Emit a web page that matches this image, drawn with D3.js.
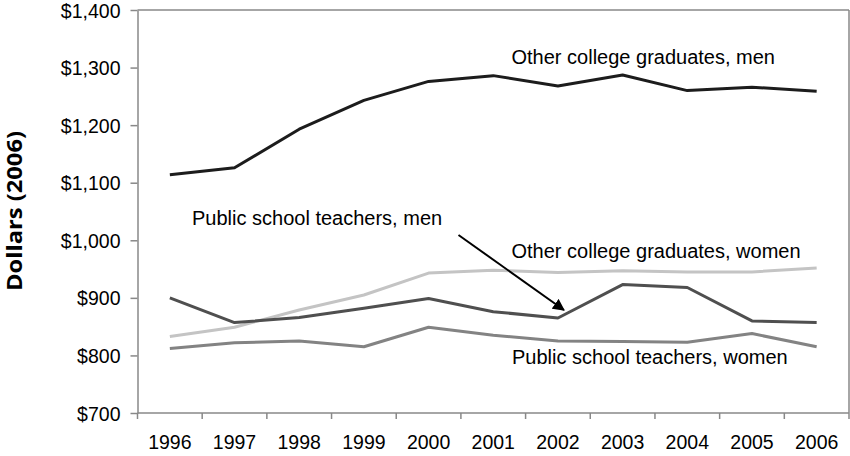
<!DOCTYPE html>
<html>
<head>
<meta charset="utf-8">
<script src="https://cdn.jsdelivr.net/npm/d3@7"></script>
<style>
  html, body { margin: 0; padding: 0; background: #fff; }
  svg { display: block; }
  text { fill: #000; }
</style>
</head>
<body>
<svg id="chart" width="850" height="456"></svg>
<script>
const years = ["1996","1997","1998","1999","2000","2001","2002","2003","2004","2005","2006"];
const gradsMen      = [1114, 1126, 1193, 1243, 1276, 1286, 1268, 1287, 1260, 1266, 1259];
const gradsWomen    = [833, 849, 879, 905, 943, 948, 944, 947, 945, 945, 952];
const teachersMen   = [900, 857, 866, 882, 899, 876, 865, 923, 918, 860, 857];
const teachersWomen = [812, 822, 825, 815, 849, 835, 825, 824, 823, 838, 815];
const yTicks = [700, 800, 900, 1000, 1100, 1200, 1300, 1400];
const seriesNames = ["Other college graduates, men", "Other college graduates, women",
                     "Public school teachers, men", "Public school teachers, women"];
const yTitle = "Dollars (2006)";

const svg = d3.select("#chart");
const L = 137.5, R = 849, T = 10, B = 413;
const frame = "#888";
const FONT = "'Liberation Sans', Arial, sans-serif";

const x = d3.scaleBand().domain(years).range([L, R]).padding(0);
const y = d3.scaleLinear().domain([700, 1400]).range([B, T]);
const cx = d => x(d) + x.bandwidth() / 2;

// frame: top & right borders
svg.append("line").attr("x1", L).attr("x2", R).attr("y1", T).attr("y2", T).attr("stroke", frame).attr("stroke-width", 1.5);
svg.append("line").attr("x1", R).attr("x2", R).attr("y1", T).attr("y2", B).attr("stroke", frame).attr("stroke-width", 1.5);

// y axis
const yAxis = svg.append("g").attr("transform", `translate(${L},0)`)
  .call(d3.axisLeft(y).tickValues(yTicks).tickFormat(d3.format("$,")).tickSize(7).tickSizeOuter(0).tickPadding(10));
yAxis.select(".domain").attr("stroke", frame).attr("stroke-width", 1.5);
yAxis.selectAll(".tick line").attr("stroke", frame).attr("stroke-width", 1.5);
yAxis.selectAll(".tick text").style("font-size", "19.5px").style("font-family", FONT).attr("fill", "#000").attr("dy", "0.36em");

// x axis
const xAxis = svg.append("g").attr("transform", `translate(0,${B})`)
  .call(d3.axisBottom(x).tickSize(0).tickPadding(22));
xAxis.select(".domain").remove();
xAxis.selectAll(".tick text").style("font-size", "19.5px").style("font-family", FONT).attr("fill", "#000");
svg.append("line").attr("x1", L).attr("x2", R).attr("y1", B).attr("y2", B).attr("stroke", frame).attr("stroke-width", 1.5);
const bounds = years.map(d => x(d)).concat([x.range()[1]]);
svg.append("g").selectAll("line").data(bounds).join("line")
  .attr("x1", d => d).attr("x2", d => d).attr("y1", B).attr("y2", B + 6)
  .attr("stroke", frame).attr("stroke-width", 1.5);

// y title
svg.append("text")
  .attr("transform", `translate(21.5,211) rotate(-90)`)
  .attr("text-anchor", "middle")
  .attr("textLength", 160)
  .attr("lengthAdjust", "spacingAndGlyphs")
  .style("font-family", "'Open Sans', sans-serif")
  .style("font-weight", "bold")
  .style("font-size", "21px")
  .text(yTitle);

// lines
const line = d3.line().x((d, i) => cx(years[i])).y(d => y(d));
const series = [
  { v: gradsWomen, c: "#c4c4c4" },
  { v: teachersWomen, c: "#838383" },
  { v: teachersMen, c: "#4f4f4f" },
  { v: gradsMen, c: "#1c1c1c" }
];
svg.append("g").selectAll("path").data(series).join("path")
  .attr("d", d => line(d.v))
  .attr("fill", "none")
  .attr("stroke", d => d.c)
  .attr("stroke-width", 3)
  .attr("stroke-linejoin", "round");

// annotations
const ann = [
  { t: seriesNames[0], x: 511.5, y: 63.5 },
  { t: seriesNames[1], x: 511.5, y: 257.5 },
  { t: seriesNames[2], x: 192, y: 225 },
  { t: seriesNames[3], x: 512, y: 364 }
];
svg.append("g").selectAll("text").data(ann).join("text")
  .attr("x", d => d.x).attr("y", d => d.y)
  .style("font-family", FONT)
  .style("font-size", "20px")
  .text(d => d.t);

// arrow
svg.append("defs").append("marker")
  .attr("id", "ah").attr("viewBox", "0 0 10 10").attr("refX", 9).attr("refY", 5)
  .attr("markerWidth", 6).attr("markerHeight", 6).attr("markerUnits", "strokeWidth")
  .attr("orient", "auto")
  .append("path").attr("d", "M0,0 L10,5 L0,10 z").attr("fill", "#000");
const tip = [cx("2002") + 6, y(teachersMen[6]) - 8];
svg.append("line")
  .attr("x1", 458.5).attr("y1", 235)
  .attr("x2", tip[0]).attr("y2", tip[1])
  .attr("stroke", "#000").attr("stroke-width", 2)
  .attr("marker-end", "url(#ah)");
</script>
</body>
</html>
